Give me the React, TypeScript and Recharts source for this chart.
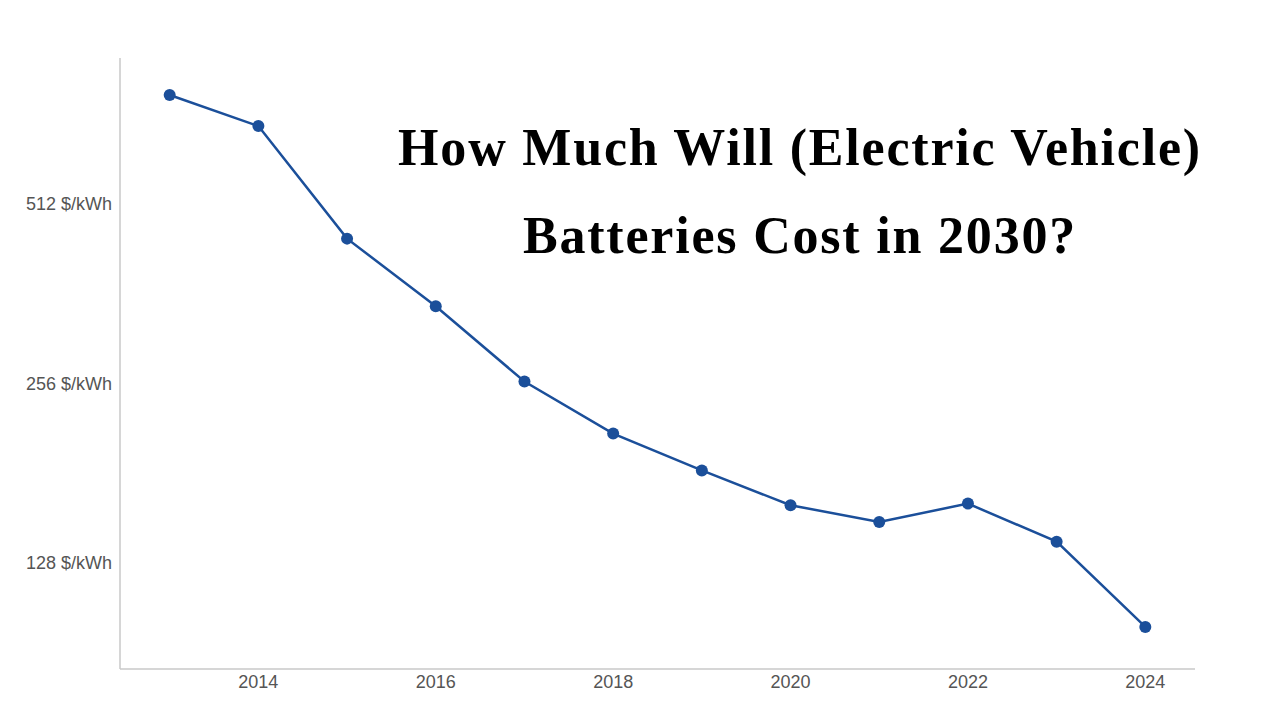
import React from "react";
import { LineChart, Line, XAxis, YAxis } from "recharts";

const years = [2013, 2014, 2015, 2016, 2017, 2018, 2019, 2020, 2021, 2022, 2023, 2024];
const prices = [780, 692, 448, 345, 258, 211, 183, 160, 150, 161, 139, 100];
const xTicks = [2014, 2016, 2018, 2020, 2022, 2024];
const yTicks = [128, 256, 512];
const titleLines = ["How Much Will (Electric Vehicle)", "Batteries Cost in 2030?"];

const data = years.map((y, i) => ({ year: y, price: prices[i] }));

const BLUE = "#1b4f9a";
const TICK = { fill: "#555", fontSize: 18, fontFamily: "Liberation Sans, Arial, sans-serif" };

export default function App() {
  return (
    <div style={{ position: "absolute", left: 0, top: 0, width: 1280, height: 720, background: "#fff" }}>
      <LineChart width={1280} height={720} data={data} margin={{ top: 58, right: 85, bottom: 21, left: 0 }}>
        <XAxis
          dataKey="year"
          type="number"
          domain={[2012.44, 2024.56]}
          ticks={xTicks}
          allowDataOverflow
          tickLine={false}
          tickMargin={0}
          axisLine={{ stroke: "#c8c8c8", strokeWidth: 1.5 }}
          tick={TICK}
          height={30}
        />
        <YAxis
          dataKey="price"
          scale="log"
          domain={[85, 900]}
          allowDataOverflow
          ticks={yTicks}
          tickFormatter={(v: number) => `${v} $/kWh`}
          tickLine={false}
          axisLine={{ stroke: "#c8c8c8", strokeWidth: 1.5 }}
          tick={TICK}
          width={120}
        />
        <Line
          type="linear"
          dataKey="price"
          stroke={BLUE}
          strokeWidth={2.5}
          dot={{ r: 6, fill: BLUE, stroke: BLUE, strokeWidth: 0 }}
          isAnimationActive={false}
        />
      </LineChart>
      <div
        style={{
          position: "absolute",
          left: 380,
          width: 840,
          top: 104,
          textAlign: "center",
          fontFamily: "Liberation Serif, serif",
          fontWeight: 700,
          fontSize: 52,
          letterSpacing: 1.8,
          lineHeight: "88px",
          color: "#000",
          whiteSpace: "nowrap",
        }}
      >
        <div>{titleLines[0]}</div>
        <div>{titleLines[1]}</div>
      </div>
    </div>
  );
}
